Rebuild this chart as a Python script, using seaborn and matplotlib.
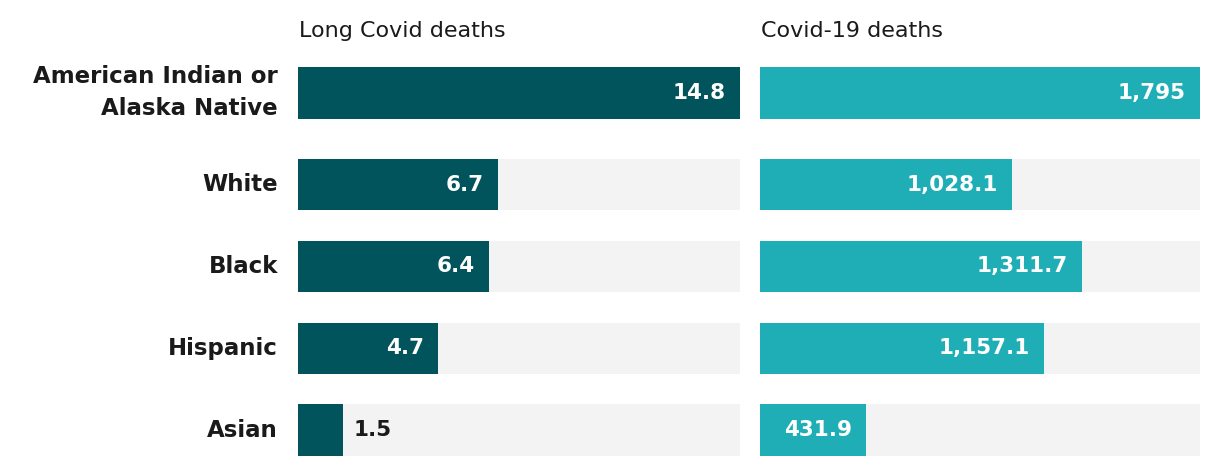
import pandas as pd
import seaborn as sns
import matplotlib.pyplot as plt

groups = ["American Indian or\nAlaska Native", "White", "Black", "Hispanic", "Asian"]
long_covid = [14.8, 6.7, 6.4, 4.7, 1.5]
covid19 = [1795, 1028.1, 1311.7, 1157.1, 431.9]
long_labels = ["14.8", "6.7", "6.4", "4.7", "1.5"]
covid_labels = ["1,795", "1,028.1", "1,311.7", "1,157.1", "431.9"]

dark = "#02545c"
light = "#20aeb6"
grey = "#f3f3f3"
ink = "#1a1a1a"

sns.set_style("white")
plt.rcParams['font.family'] = ['DejaVu Sans']

# row positions: a two-line label pushes the next row down a little
pos = []
y = 0.0
for g in groups:
    pos.append(y)
    y += 1 + 0.122 * g.count("\n")

fig = plt.figure(figsize=(12.2, 4.68), dpi=100)
ax1 = fig.add_axes([298 / 1220, 1 - 456 / 468, 442 / 1220, 389 / 468])
ax2 = fig.add_axes([760 / 1220, 1 - 456 / 468, 440 / 1220, 389 / 468])

bw = 0.63


def panel(ax, values, labels, color, title):
    df = pd.DataFrame({"pos": pos, "value": values})
    top = max(values)
    df["full"] = top
    # grey track behind each bar
    sns.barplot(data=df, x="full", y="pos", orient="h", native_scale=True,
                color=grey, saturation=1, width=bw, ax=ax)
    sns.barplot(data=df, x="value", y="pos", orient="h", native_scale=True,
                color=color, saturation=1, width=bw, ax=ax)
    for p in ax.patches:
        p.set_linewidth(0)
    for yp, v, lab in zip(pos, values, labels):
        if v / top < 0.15:
            ax.text(v + top * 0.024, yp, lab, ha="left", va="center",
                    color=ink, fontsize=15.5, fontweight="bold")
        else:
            ax.text(v - top * 0.032, yp, lab, ha="right", va="center",
                    color="white", fontsize=15.5, fontweight="bold")
    ax.set_xlim(0, top)
    ax.set_ylim(pos[-1] + bw / 2, pos[0] - bw / 2)
    ax.set_xlabel("")
    ax.set_ylabel("")
    ax.set_xticks([])
    ax.annotate(title, xy=(0, 1), xycoords="axes fraction",
                xytext=(1, 21.6), textcoords="offset points",
                ha="left", va="baseline", fontsize=16, color=ink)
    sns.despine(ax=ax, left=True, bottom=True)


panel(ax1, long_covid, long_labels, dark, "Long Covid deaths")
panel(ax2, covid19, covid_labels, light, "Covid-19 deaths")

ax1.set_yticks(pos, groups)
ax1.tick_params(axis="y", length=0, pad=14.4)
for t in ax1.get_yticklabels():
    t.set_fontsize(16.5)
    t.set_fontweight("bold")
    t.set_color(ink)
    t.set_linespacing(1.5)
    t.set_verticalalignment("center")
ax2.set_yticks([])

fig.savefig("out.png", dpi=100)
